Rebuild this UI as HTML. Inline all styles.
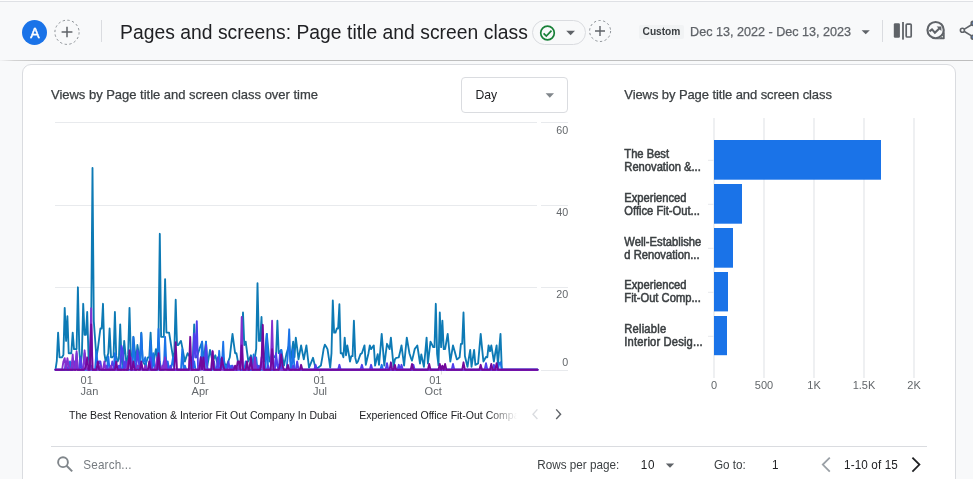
<!DOCTYPE html>
<html lang="en">
<head>
<meta charset="utf-8">
<title>Pages and screens: Page title and screen class</title>
<style>
*{box-sizing:border-box;margin:0;padding:0}
html,body{width:973px;height:479px;overflow:hidden;background:#f8f9fa}
body{position:relative;font-family:"Liberation Sans",sans-serif;color:#202124}
.abs{position:absolute;white-space:nowrap}
.t{position:absolute;white-space:nowrap;line-height:16px;height:16px}
#topline{left:0;top:0;width:973px;height:2px;background:linear-gradient(#fdfdfd 0,#fdfdfd 1px,#dfe1e5 1px,#dfe1e5 2px)}
#hdrline{left:0;top:60px;width:973px;height:1px;background:linear-gradient(90deg,#f3f4f5,#d4d4d4 14px,#bebebe 45px,#bebebe)}
#card{left:22px;top:64px;width:934px;height:440px;background:#fff;border:1px solid #dadce0;border-radius:9px}
#avatar{left:22px;top:20px;width:25px;height:25px;border-radius:50%;background:#1a73e8;color:#fff;font-size:14px;font-weight:400;-webkit-text-stroke:0.45px #fff;text-align:center;line-height:26.5px;padding-left:0.6px}
#vdiv1{left:101px;top:20px;width:1px;height:22px;background:#dadce0}
#vdiv2{left:882px;top:20px;width:1px;height:22px;background:#dadce0}
#title{left:120px;top:21px;font-size:19.3px;letter-spacing:0.035px;line-height:24px;height:24px;color:#202124}
#chip{left:532px;top:20px;width:54px;height:25px;border:1px solid #dadce0;border-radius:13px;background:#f8f9fa}
#custom{left:639px;top:25px;width:45px;height:14px;background:#f1f3f4;border-radius:2px}
#customt{left:642.6px;top:23.6px;font-size:10.2px;font-weight:700;letter-spacing:-0.03px;color:#3c4043}
#date{left:690.1px;top:24.4px;font-size:12.6px;color:#5f6368;-webkit-text-stroke:0.25px #5f6368}
.ct{font-size:13px;color:#3c4043;-webkit-text-stroke:0.25px #3c4043}
#ct1{left:51px;top:87.3px;letter-spacing:-0.02px}
#ct2{left:624.3px;top:87.3px;letter-spacing:-0.09px}
#daybox{left:461px;top:77px;width:107px;height:36px;border:1px solid #dadce0;border-radius:4px;background:#fff}
#day{left:475.4px;top:86.6px;font-size:12.2px;color:#202124}
.ax{font-size:11px;color:#63676b;line-height:12px;height:12px;position:absolute;white-space:nowrap}
.yl{right:404.8px;text-align:right;font-size:10.7px}
.leg{font-size:10.5px;color:#202124}
.bl{position:absolute;left:624.3px;font-size:11.2px;line-height:14px;height:14px;color:#3c4043;-webkit-text-stroke:0.5px #3c4043;white-space:nowrap;transform:scaleY(1.06);transform-origin:0 10.88px}
.ft{font-size:11.7px;color:#3c4043;transform:scaleY(1.09);transform-origin:0 12.1px}
#hr{left:51px;top:446px;width:876px;height:1px;background:#dadce0}
svg{position:absolute;left:0;top:0;overflow:visible}
</style>
</head>
<body>
<div class="abs" id="topline"></div>
<div class="abs" id="hdrline"></div>

<div class="abs" id="avatar">A</div>
<svg width="973" height="62" viewBox="0 0 973 62">
  <circle cx="67" cy="32.3" r="12.1" fill="none" stroke="#80868b" stroke-width="0.9" stroke-dasharray="2.3 2.45"/>
  <path d="M67 26.8v10.4M61.6 32h10.8" stroke="#5f6368" stroke-width="1.5" fill="none"/>
  <circle cx="600.1" cy="31" r="10.5" fill="none" stroke="#80868b" stroke-width="0.9" stroke-dasharray="2.3 2.45"/>
  <path d="M600 26v10M595 31h10" stroke="#5f6368" stroke-width="1.4" fill="none"/>
</svg>
<div class="abs" id="vdiv1"></div>
<div class="abs" id="title">Pages and screens: Page title and screen class</div>
<div class="abs" id="chip"></div>
<svg width="973" height="62" viewBox="0 0 973 62">
  <circle cx="547.5" cy="33" r="6.8" fill="none" stroke="#188038" stroke-width="1.7"/>
  <path d="M543.6 33.3l2.7 2.7 5.2-5.4" fill="none" stroke="#188038" stroke-width="1.7"/>
  <path d="M566.2 30.8h8.8l-4.4 4.5z" fill="#5f6368"/>
  <path d="M861.6 30.2h8.2l-4.1 4.1z" fill="#5f6368"/>
  <!-- compare icon -->
  <rect x="893.8" y="23.3" width="6.1" height="14.5" rx="1.3" fill="#5f6368"/>
  <rect x="902.1" y="22" width="1.8" height="17.6" fill="#5f6368"/>
  <rect x="906.2" y="24.1" width="5" height="12.9" rx="1" fill="none" stroke="#5f6368" stroke-width="1.7"/>
  <!-- insights icon -->
  <circle cx="935.6" cy="30.1" r="8.15" fill="none" stroke="#5f6368" stroke-width="2.1"/>
  <path d="M944.7 30.1V38.4a0.8 0.8 0 0 1 -0.8 0.8H935.6A9.1 9.1 0 0 0 944.7 30.1Z" fill="#5f6368"/>
  <circle cx="942.3" cy="36.8" r="0.75" fill="#e6ede2"/>
  <path d="M929.5 31.4l2.5-2 2.9 3.3 4.4-4.3" fill="none" stroke="#5f6368" stroke-width="2.1"/>
  <path d="M936.6 26.4h4.8v4.6z" fill="#5f6368"/>
  <!-- share icon -->
  <circle cx="962.4" cy="30.3" r="2" fill="none" stroke="#5f6368" stroke-width="1.6"/>
  <path d="M964.4 29.1l7.6-4.6M964.4 31.5l7.6 4.6" fill="none" stroke="#5f6368" stroke-width="1.6"/>
  <circle cx="973.2" cy="23.4" r="2" fill="#5f7fb8" stroke="#5f6368" stroke-width="1.6"/>
  <circle cx="973.2" cy="37.2" r="2" fill="#5f7fb8" stroke="#5f6368" stroke-width="1.6"/>
</svg>
<div class="abs" id="custom"></div>
<div class="t" id="customt">Custom</div>
<div class="t" id="date">Dec 13, 2022 - Dec 13, 2023</div>
<div class="abs" id="vdiv2"></div>

<div class="abs" id="card"></div>
<div class="t ct" id="ct1">Views by Page title and screen class over time</div>
<div class="t ct" id="ct2">Views by Page title and screen class</div>
<div class="abs" id="daybox"></div>
<div class="t" id="day">Day</div>

<svg width="973" height="479" viewBox="0 0 973 479">
  <path d="M545.6 93.2h8.4l-4.2 4.6z" fill="#80868b"/>
  <g stroke="#e8eaed" stroke-width="1" fill="none">
    <path d="M55 122.5H537M541 122.5H568M55 205.5H537M541 205.5H568M55 287.5H537M541 287.5H568M541 370.5H568"/>
  </g>
  <g fill="none" stroke-width="1.85" stroke-linejoin="round" stroke-linecap="round">
    <polyline stroke="#0d7ab5" points="55.5,369.7 56.8,360.8 58.1,332.6 59.5,357.3 60.8,357.3 62.1,357.3 63.4,354.9 64.7,307.9 66.1,340.9 67.4,316.2 68.7,353.2 70.0,353.2 71.3,353.2 72.7,332.6 74.0,349.1 75.3,349.1 76.6,349.1 77.9,287.3 79.3,349.9 80.6,367.6 81.9,353.9 83.2,303.8 84.6,334.7 85.9,334.7 87.2,312.0 88.5,355.9 89.8,365.6 91.2,321.3 92.5,167.9 93.8,321.3 95.1,339.3 96.4,357.3 97.8,349.1 99.1,338.8 100.4,328.5 101.7,328.5 103.0,303.8 104.4,353.9 105.7,361.5 107.0,357.3 108.3,353.2 109.6,328.5 111.0,357.3 112.3,357.3 113.6,355.9 114.9,312.0 116.2,355.9 117.6,361.5 118.9,358.8 120.2,324.4 121.5,358.8 122.8,367.6 124.2,340.9 125.5,354.3 126.8,367.6 128.1,354.9 129.5,307.9 130.8,354.9 132.1,365.6 133.4,336.8 134.7,349.1 136.1,361.5 137.4,345.0 138.7,353.2 140.0,361.5 141.3,332.6 142.7,360.8 144.0,363.2 145.3,365.6 146.6,361.5 147.9,357.3 149.3,357.3 150.6,332.6 151.9,360.8 153.2,365.6 154.5,357.3 155.9,349.1 157.2,357.3 158.5,337.1 159.8,233.8 161.1,336.8 162.5,336.8 163.8,336.8 165.1,279.1 166.4,332.6 167.7,332.6 169.1,332.6 170.4,340.9 171.7,349.1 173.0,357.3 174.3,352.9 175.7,299.7 177.0,345.0 178.3,345.0 179.6,342.9 181.0,340.9 182.3,347.7 183.6,354.6 184.9,361.5 186.2,357.3 187.6,353.2 188.9,355.3 190.2,357.3 191.5,361.5 192.8,358.8 194.2,324.4 195.5,357.3 196.8,357.3 198.1,353.2 199.4,349.1 200.8,345.4 202.1,341.7 203.4,361.5 204.7,351.6 206.0,341.7 207.4,365.6 208.7,357.8 210.0,349.9 211.3,355.7 212.6,361.5 214.0,358.4 215.3,355.3 216.6,360.4 217.9,365.6 219.2,362.5 220.6,359.4 221.9,358.4 223.2,357.3 224.5,362.5 225.9,367.6 227.2,364.2 228.5,360.8 229.8,357.3 231.1,345.6 232.5,333.9 233.8,343.6 235.1,353.2 236.4,353.2 237.7,360.4 239.1,367.6 240.4,361.8 241.7,356.0 243.0,312.5 244.3,345.0 245.7,341.7 247.0,351.6 248.3,361.5 249.6,358.4 250.9,355.3 252.3,360.4 253.6,365.6 254.9,357.3 256.2,348.9 257.5,283.2 258.9,340.9 260.2,340.9 261.5,317.0 262.8,357.0 264.1,361.5 265.5,347.7 266.8,333.9 268.1,347.7 269.4,361.5 270.7,357.3 272.1,353.2 273.4,355.3 274.7,357.3 276.0,357.3 277.4,320.7 278.7,353.2 280.0,351.6 281.3,349.9 282.6,357.8 284.0,365.6 285.3,359.4 286.6,353.2 287.9,349.1 289.2,345.0 290.6,361.5 291.9,351.6 293.2,341.7 294.5,357.3 295.8,337.6 297.2,348.5 298.5,359.4 299.8,352.4 301.1,345.4 302.4,352.4 303.8,359.4 305.1,352.4 306.4,345.4 307.7,356.5 309.0,367.6 310.4,364.3 311.7,361.1 313.0,357.8 314.3,363.1 315.6,368.5 317.0,368.1 318.3,367.6 319.6,366.6 320.9,365.6 322.3,357.3 323.6,349.1 324.9,344.6 326.2,346.8 327.5,349.1 328.9,358.4 330.2,367.6 331.5,353.1 332.8,300.5 334.1,332.6 335.5,332.6 336.8,328.5 338.1,328.5 339.4,304.2 340.7,353.2 342.1,353.2 343.4,357.3 344.7,337.6 346.0,355.3 347.3,345.4 348.7,353.4 350.0,361.5 351.3,356.1 352.6,356.1 353.9,320.7 355.3,357.9 356.6,363.1 357.9,361.5 359.2,357.8 360.5,354.1 361.9,353.2 363.2,349.3 364.5,345.4 365.8,364.8 367.1,359.0 368.5,353.2 369.8,345.4 371.1,349.1 372.4,347.3 373.8,345.4 375.1,365.6 376.4,359.8 377.7,354.1 379.0,364.8 380.4,349.3 381.7,333.9 383.0,349.7 384.3,365.6 385.6,354.7 387.0,343.8 388.3,346.4 389.6,349.1 390.9,337.6 392.2,352.2 393.6,366.8 394.9,359.4 396.2,357.8 397.5,357.6 398.8,357.3 400.2,351.4 401.5,345.4 402.8,355.5 404.1,365.6 405.4,351.6 406.8,337.6 408.1,345.4 409.4,353.2 410.7,357.3 412.0,360.6 413.4,354.9 414.7,349.1 416.0,347.3 417.3,345.4 418.7,354.5 420.0,363.5 421.3,354.5 422.6,360.6 423.9,366.8 425.3,352.2 426.6,337.6 427.9,363.5 429.2,352.6 430.5,341.7 431.9,344.4 433.2,347.1 434.5,347.1 435.8,303.8 437.1,353.9 438.5,365.6 439.8,312.5 441.1,347.1 442.4,320.7 443.7,349.1 445.1,349.1 446.4,341.5 447.7,333.9 449.0,347.7 450.3,361.5 451.7,353.4 453.0,345.4 454.3,350.1 455.6,354.7 456.9,359.4 458.3,358.4 459.6,357.3 460.9,343.8 462.2,343.8 463.5,312.5 464.9,356.0 466.2,361.5 467.5,366.8 468.8,358.4 470.2,349.9 471.5,366.8 472.8,358.4 474.1,349.9 475.4,364.8 476.8,364.1 478.1,363.5 479.4,348.7 480.7,333.9 482.0,347.7 483.4,361.5 484.7,359.2 486.0,356.9 487.3,357.3 488.6,345.4 490.0,351.2 491.3,345.4 492.6,353.4 493.9,361.5 495.2,353.4 496.6,345.4 497.9,364.8 499.2,349.3 500.5,333.9 501.8,369.7 503.2,369.7 504.5,369.7 505.8,369.7 507.1,369.7 508.4,369.7 509.8,369.7 511.1,369.7 512.4,369.7 513.7,369.7 515.1,369.7 516.4,369.7 517.7,369.7 519.0,369.7 520.3,369.7 521.7,369.7 523.0,369.7 524.3,369.7 525.6,369.7 526.9,369.7 528.3,369.7 529.6,369.7 530.9,369.7 532.2,369.7 533.5,369.7 534.9,369.7 536.2,369.7 537.5,369.7"/>
    <polyline stroke="#1a73e8" points="55.5,369.7 56.8,369.7 58.1,369.7 59.5,369.7 60.8,369.7 62.1,369.7 63.4,369.7 64.7,369.7 66.1,369.7 67.4,369.7 68.7,369.7 70.0,361.5 71.3,369.7 72.7,369.7 74.0,361.5 75.3,369.7 76.6,353.2 77.9,369.7 79.3,369.7 80.6,369.7 81.9,369.7 83.2,369.7 84.6,369.7 85.9,369.7 87.2,369.7 88.5,369.7 89.8,365.6 91.2,365.6 92.5,369.7 93.8,369.7 95.1,369.7 96.4,351.2 97.8,365.6 99.1,369.7 100.4,369.7 101.7,369.7 103.0,369.7 104.4,369.7 105.7,369.7 107.0,369.7 108.3,356.5 109.6,369.7 111.0,369.7 112.3,369.7 113.6,369.7 114.9,353.2 116.2,365.6 117.6,369.7 118.9,369.7 120.2,369.7 121.5,369.7 122.8,365.6 124.2,369.7 125.5,361.5 126.8,369.7 128.1,369.7 129.5,357.3 130.8,357.3 132.1,369.7 133.4,337.2 134.7,361.5 136.1,369.7 137.4,365.6 138.7,369.7 140.0,361.5 141.3,333.5 142.7,361.5 144.0,361.5 145.3,357.3 146.6,369.7 147.9,369.7 149.3,369.7 150.6,340.9 151.9,369.7 153.2,353.2 154.5,369.7 155.9,369.7 157.2,369.7 158.5,328.9 159.8,361.5 161.1,369.7 162.5,369.7 163.8,369.7 165.1,336.8 166.4,365.6 167.7,361.5 169.1,369.7 170.4,369.7 171.7,365.6 173.0,357.3 174.3,369.7 175.7,369.7 177.0,369.7 178.3,369.7 179.6,369.7 181.0,369.7 182.3,349.1 183.6,369.7 184.9,365.6 186.2,369.7 187.6,369.7 188.9,369.7 190.2,369.7 191.5,357.3 192.8,369.7 194.2,361.5 195.5,369.7 196.8,369.7 198.1,369.7 199.4,365.6 200.8,369.7 202.1,341.7 203.4,369.7 204.7,369.7 206.0,341.7 207.4,369.7 208.7,369.7 210.0,369.7 211.3,369.7 212.6,369.7 214.0,361.5 215.3,369.7 216.6,369.7 217.9,369.7 219.2,350.8 220.6,369.7 221.9,365.6 223.2,341.7 224.5,369.7 225.9,365.6 227.2,369.7 228.5,369.7 229.8,369.7 231.1,365.6 232.5,369.7 233.8,369.7 235.1,369.7 236.4,369.7 237.7,369.7 239.1,365.6 240.4,369.7 241.7,369.7 243.0,369.7 244.3,369.7 245.7,361.5 247.0,369.7 248.3,369.7 249.6,369.7 250.9,369.7 252.3,369.7 253.6,354.5 254.9,369.7 256.2,357.3 257.5,369.7 258.9,365.6 260.2,369.7 261.5,369.7 262.8,369.7 264.1,369.7 265.5,369.7 266.8,333.9 268.1,369.7 269.4,369.7 270.7,369.7 272.1,369.7 273.4,369.7 274.7,369.7 276.0,357.3 277.4,365.6 278.7,369.7 280.0,369.7 281.3,349.9 282.6,369.7 284.0,369.7 285.3,369.7 286.6,369.7 287.9,353.2 289.2,329.3 290.6,369.7 291.9,365.6 293.2,349.1 294.5,369.7 295.8,369.7 297.2,369.7 298.5,369.7 299.8,369.7 301.1,369.7 302.4,369.7 303.8,369.7 305.1,369.7 306.4,369.7 307.7,369.7 309.0,369.7 310.4,369.7 311.7,369.7 313.0,369.7 314.3,369.7 315.6,369.7 317.0,369.7 318.3,369.7 319.6,369.7 320.9,369.7 322.3,369.7 323.6,369.7 324.9,369.7 326.2,369.7 327.5,369.7 328.9,369.7 330.2,369.7 331.5,369.7 332.8,369.7 334.1,369.7 335.5,369.7 336.8,369.7 338.1,369.7 339.4,369.7 340.7,369.7 342.1,369.7 343.4,369.7 344.7,369.7 346.0,369.7 347.3,369.7 348.7,369.7 350.0,369.7 351.3,369.7 352.6,369.7 353.9,369.7 355.3,369.7 356.6,369.7 357.9,369.7 359.2,369.7 360.5,369.7 361.9,369.7 363.2,369.7 364.5,369.7 365.8,369.7 367.1,369.7 368.5,369.7 369.8,369.7 371.1,369.7 372.4,369.7 373.8,369.7 375.1,369.7 376.4,369.7 377.7,369.7 379.0,369.7 380.4,369.7 381.7,364.8 383.0,369.7 384.3,369.7 385.6,369.7 387.0,369.7 388.3,369.7 389.6,369.7 390.9,369.7 392.2,369.7 393.6,369.7 394.9,369.7 396.2,369.7 397.5,369.7 398.8,369.7 400.2,369.7 401.5,369.7 402.8,369.7 404.1,369.7 405.4,369.7 406.8,369.7 408.1,369.7 409.4,369.7 410.7,369.7 412.0,369.7 413.4,369.7 414.7,369.7 416.0,369.7 417.3,369.7 418.7,369.7 420.0,369.7 421.3,369.7 422.6,369.7 423.9,369.7 425.3,369.7 426.6,369.7 427.9,369.7 429.2,369.7 430.5,369.7 431.9,369.7 433.2,369.7 434.5,369.7 435.8,369.7 437.1,369.7 438.5,369.7 439.8,369.7 441.1,369.7 442.4,369.7 443.7,369.7 445.1,369.7 446.4,369.7 447.7,369.7 449.0,369.7 450.3,369.7 451.7,369.7 453.0,369.7 454.3,369.7 455.6,369.7 456.9,369.7 458.3,369.7 459.6,369.7 460.9,369.7 462.2,369.7 463.5,369.7 464.9,369.7 466.2,369.7 467.5,369.7 468.8,369.7 470.2,369.7 471.5,369.7 472.8,369.7 474.1,369.7 475.4,369.7 476.8,369.7 478.1,369.7 479.4,369.7 480.7,369.7 482.0,369.7 483.4,369.7 484.7,369.7 486.0,369.7 487.3,369.7 488.6,369.7 490.0,369.7 491.3,369.7 492.6,369.7 493.9,369.7 495.2,369.7 496.6,369.7 497.9,369.7 499.2,363.5 500.5,362.3 501.8,369.7 503.2,369.7 504.5,369.7 505.8,369.7 507.1,369.7 508.4,369.7 509.8,369.7 511.1,369.7 512.4,369.7 513.7,369.7 515.1,369.7 516.4,369.7 517.7,369.7 519.0,369.7 520.3,369.7 521.7,369.7 523.0,369.7 524.3,369.7 525.6,369.7 526.9,369.7 528.3,369.7 529.6,369.7 530.9,369.7 532.2,369.7 533.5,369.7 534.9,369.7 536.2,369.7 537.5,369.7"/>
    <polyline stroke="#4f3fec" points="55.5,369.7 56.8,369.7 58.1,369.7 59.5,369.7 60.8,369.7 62.1,369.7 63.4,369.7 64.7,369.7 66.1,361.5 67.4,369.7 68.7,369.7 70.0,369.7 71.3,369.7 72.7,369.7 74.0,361.5 75.3,369.7 76.6,365.6 77.9,369.7 79.3,369.7 80.6,357.3 81.9,369.7 83.2,369.7 84.6,353.2 85.9,365.6 87.2,369.7 88.5,369.7 89.8,369.7 91.2,369.7 92.5,369.7 93.8,369.7 95.1,369.7 96.4,369.7 97.8,369.7 99.1,361.5 100.4,361.5 101.7,369.7 103.0,369.7 104.4,369.7 105.7,369.7 107.0,365.6 108.3,369.7 109.6,369.7 111.0,369.7 112.3,361.5 113.6,365.6 114.9,369.7 116.2,369.7 117.6,369.7 118.9,365.6 120.2,369.7 121.5,345.8 122.8,351.2 124.2,369.7 125.5,361.5 126.8,369.7 128.1,369.7 129.5,369.7 130.8,369.7 132.1,369.7 133.4,369.7 134.7,369.7 136.1,369.7 137.4,350.3 138.7,361.5 140.0,369.7 141.3,365.6 142.7,369.7 144.0,369.7 145.3,369.7 146.6,369.7 147.9,369.7 149.3,369.7 150.6,357.3 151.9,369.7 153.2,369.7 154.5,369.7 155.9,369.7 157.2,361.5 158.5,369.7 159.8,369.7 161.1,369.7 162.5,369.7 163.8,361.5 165.1,369.7 166.4,361.5 167.7,369.7 169.1,369.7 170.4,365.6 171.7,369.7 173.0,369.7 174.3,369.7 175.7,369.7 177.0,369.7 178.3,369.7 179.6,369.7 181.0,369.7 182.3,369.7 183.6,369.7 184.9,369.7 186.2,369.7 187.6,369.7 188.9,369.7 190.2,369.7 191.5,369.7 192.8,369.7 194.2,333.5 195.5,357.3 196.8,321.1 198.1,369.7 199.4,369.7 200.8,357.3 202.1,361.5 203.4,369.7 204.7,361.5 206.0,345.4 207.4,369.7 208.7,369.7 210.0,369.7 211.3,369.7 212.6,365.6 214.0,369.7 215.3,369.7 216.6,369.7 217.9,357.3 219.2,369.7 220.6,369.7 221.9,357.3 223.2,369.7 224.5,369.7 225.9,369.7 227.2,369.7 228.5,361.5 229.8,369.7 231.1,369.7 232.5,365.6 233.8,369.7 235.1,369.7 236.4,369.7 237.7,369.7 239.1,369.7 240.4,369.7 241.7,369.7 243.0,369.7 244.3,369.7 245.7,369.7 247.0,369.7 248.3,369.7 249.6,369.7 250.9,369.7 252.3,369.7 253.6,369.7 254.9,369.7 256.2,369.7 257.5,365.6 258.9,369.7 260.2,369.7 261.5,365.6 262.8,361.5 264.1,369.7 265.5,369.7 266.8,369.7 268.1,365.6 269.4,369.7 270.7,369.7 272.1,369.7 273.4,369.7 274.7,369.7 276.0,353.2 277.4,365.6 278.7,369.7 280.0,353.2 281.3,369.7 282.6,369.7 284.0,369.7 285.3,369.7 286.6,369.7 287.9,369.7 289.2,369.7 290.6,369.7 291.9,369.7 293.2,365.6 294.5,369.7 295.8,369.7 297.2,361.5 298.5,369.7 299.8,369.7 301.1,369.7 302.4,369.7 303.8,369.7 305.1,369.7 306.4,369.7 307.7,369.7 309.0,369.7 310.4,369.7 311.7,369.7 313.0,369.7 314.3,369.7 315.6,364.8 317.0,369.7 318.3,369.7 319.6,369.7 320.9,369.7 322.3,369.7 323.6,369.7 324.9,369.7 326.2,369.7 327.5,369.7 328.9,369.7 330.2,369.7 331.5,369.7 332.8,369.7 334.1,369.7 335.5,369.7 336.8,369.7 338.1,369.7 339.4,364.8 340.7,369.7 342.1,369.7 343.4,369.7 344.7,369.7 346.0,369.7 347.3,369.7 348.7,369.7 350.0,369.7 351.3,369.7 352.6,369.7 353.9,369.7 355.3,369.7 356.6,369.7 357.9,369.7 359.2,369.7 360.5,369.7 361.9,364.8 363.2,369.7 364.5,369.7 365.8,369.7 367.1,369.7 368.5,369.7 369.8,369.7 371.1,364.8 372.4,369.7 373.8,369.7 375.1,369.7 376.4,369.7 377.7,369.7 379.0,369.7 380.4,369.7 381.7,369.7 383.0,369.7 384.3,369.7 385.6,369.7 387.0,363.1 388.3,369.7 389.6,369.7 390.9,369.7 392.2,369.7 393.6,369.7 394.9,369.7 396.2,369.7 397.5,369.7 398.8,364.8 400.2,369.7 401.5,364.8 402.8,369.7 404.1,369.7 405.4,369.7 406.8,369.7 408.1,369.7 409.4,369.7 410.7,369.7 412.0,369.7 413.4,364.8 414.7,369.7 416.0,369.7 417.3,369.7 418.7,369.7 420.0,369.7 421.3,369.7 422.6,369.7 423.9,369.7 425.3,369.7 426.6,369.7 427.9,369.7 429.2,369.7 430.5,369.7 431.9,369.7 433.2,369.7 434.5,369.7 435.8,369.7 437.1,369.7 438.5,369.7 439.8,369.7 441.1,369.7 442.4,369.7 443.7,369.7 445.1,369.7 446.4,369.7 447.7,369.7 449.0,369.7 450.3,369.7 451.7,369.7 453.0,363.9 454.3,369.7 455.6,369.7 456.9,369.7 458.3,369.7 459.6,369.7 460.9,369.7 462.2,369.7 463.5,369.7 464.9,369.7 466.2,369.7 467.5,369.7 468.8,369.7 470.2,369.7 471.5,369.7 472.8,369.7 474.1,369.7 475.4,369.7 476.8,369.7 478.1,369.7 479.4,369.7 480.7,369.7 482.0,369.7 483.4,369.7 484.7,369.7 486.0,363.1 487.3,369.7 488.6,369.7 490.0,369.7 491.3,369.7 492.6,369.7 493.9,364.8 495.2,369.7 496.6,369.7 497.9,369.7 499.2,369.7 500.5,369.7 501.8,369.7 503.2,369.7 504.5,369.7 505.8,369.7 507.1,369.7 508.4,369.7 509.8,369.7 511.1,369.7 512.4,369.7 513.7,369.7 515.1,369.7 516.4,369.7 517.7,369.7 519.0,369.7 520.3,369.7 521.7,369.7 523.0,369.7 524.3,369.7 525.6,369.7 526.9,369.7 528.3,369.7 529.6,369.7 530.9,369.7 532.2,369.7 533.5,369.7 534.9,369.7 536.2,369.7 537.5,369.7"/>
    <polyline stroke="#8430ce" points="55.5,369.7 56.8,369.7 58.1,369.7 59.5,369.7 60.8,369.7 62.1,369.7 63.4,361.5 64.7,358.2 66.1,369.7 67.4,358.2 68.7,365.6 70.0,369.7 71.3,369.7 72.7,354.5 74.0,369.7 75.3,369.7 76.6,351.2 77.9,369.7 79.3,369.7 80.6,369.7 81.9,369.7 83.2,369.7 84.6,350.3 85.9,365.6 87.2,369.7 88.5,369.7 89.8,369.7 91.2,308.3 92.5,369.7 93.8,369.7 95.1,369.7 96.4,369.7 97.8,369.7 99.1,369.7 100.4,365.6 101.7,369.7 103.0,369.7 104.4,361.5 105.7,369.7 107.0,369.7 108.3,369.7 109.6,369.7 111.0,365.6 112.3,369.7 113.6,369.7 114.9,369.7 116.2,369.7 117.6,369.7 118.9,369.7 120.2,369.7 121.5,369.7 122.8,369.7 124.2,369.7 125.5,369.7 126.8,369.7 128.1,361.5 129.5,357.3 130.8,357.3 132.1,369.7 133.4,369.7 134.7,369.7 136.1,369.7 137.4,365.6 138.7,365.6 140.0,369.7 141.3,369.7 142.7,369.7 144.0,369.7 145.3,365.6 146.6,369.7 147.9,369.7 149.3,369.7 150.6,369.7 151.9,369.7 153.2,369.7 154.5,369.7 155.9,365.6 157.2,357.3 158.5,357.3 159.8,369.7 161.1,369.7 162.5,365.6 163.8,369.7 165.1,357.3 166.4,369.7 167.7,369.7 169.1,369.7 170.4,369.7 171.7,369.7 173.0,369.7 174.3,369.7 175.7,369.7 177.0,369.7 178.3,369.7 179.6,369.7 181.0,369.7 182.3,369.7 183.6,369.7 184.9,369.7 186.2,369.7 187.6,369.7 188.9,369.7 190.2,369.7 191.5,369.7 192.8,369.7 194.2,369.7 195.5,369.7 196.8,369.7 198.1,369.7 199.4,365.6 200.8,369.7 202.1,361.5 203.4,369.7 204.7,369.7 206.0,369.7 207.4,369.7 208.7,369.7 210.0,369.7 211.3,369.7 212.6,350.8 214.0,369.7 215.3,369.7 216.6,369.7 217.9,369.7 219.2,369.7 220.6,369.7 221.9,369.7 223.2,369.7 224.5,369.7 225.9,369.7 227.2,369.7 228.5,369.7 229.8,369.7 231.1,369.7 232.5,369.7 233.8,369.7 235.1,369.7 236.4,369.7 237.7,369.7 239.1,365.6 240.4,369.7 241.7,317.0 243.0,369.7 244.3,369.7 245.7,369.7 247.0,369.7 248.3,369.7 249.6,365.6 250.9,361.5 252.3,369.7 253.6,369.7 254.9,357.3 256.2,369.7 257.5,369.7 258.9,369.7 260.2,369.7 261.5,357.3 262.8,369.7 264.1,369.7 265.5,369.7 266.8,369.7 268.1,369.7 269.4,369.7 270.7,369.7 272.1,320.7 273.4,369.7 274.7,369.7 276.0,369.7 277.4,369.7 278.7,369.7 280.0,369.7 281.3,369.7 282.6,369.7 284.0,369.7 285.3,369.7 286.6,369.7 287.9,369.7 289.2,369.7 290.6,369.7 291.9,369.7 293.2,369.7 294.5,369.7 295.8,369.7 297.2,369.7 298.5,369.7 299.8,369.7 301.1,369.7 302.4,369.7 303.8,369.7 305.1,369.7 306.4,369.7 307.7,369.7 309.0,369.7 310.4,369.7 311.7,369.7 313.0,369.7 314.3,369.7 315.6,369.7 317.0,369.7 318.3,369.7 319.6,369.7 320.9,369.7 322.3,369.7 323.6,369.7 324.9,369.7 326.2,369.7 327.5,369.7 328.9,369.7 330.2,369.7 331.5,369.7 332.8,369.7 334.1,369.7 335.5,369.7 336.8,369.7 338.1,369.7 339.4,369.7 340.7,369.7 342.1,369.7 343.4,369.7 344.7,369.7 346.0,369.7 347.3,369.7 348.7,369.7 350.0,369.7 351.3,369.7 352.6,369.7 353.9,369.7 355.3,369.7 356.6,369.7 357.9,369.7 359.2,369.7 360.5,369.7 361.9,369.7 363.2,369.7 364.5,369.7 365.8,369.7 367.1,369.7 368.5,369.7 369.8,369.7 371.1,369.7 372.4,369.7 373.8,369.7 375.1,369.7 376.4,369.7 377.7,369.7 379.0,369.7 380.4,369.7 381.7,369.7 383.0,369.7 384.3,369.7 385.6,369.7 387.0,369.7 388.3,369.7 389.6,369.7 390.9,369.7 392.2,369.7 393.6,369.7 394.9,369.7 396.2,369.7 397.5,369.7 398.8,369.7 400.2,369.7 401.5,369.7 402.8,369.7 404.1,369.7 405.4,369.7 406.8,369.7 408.1,369.7 409.4,369.7 410.7,369.7 412.0,369.7 413.4,369.7 414.7,369.7 416.0,369.7 417.3,369.7 418.7,369.7 420.0,369.7 421.3,369.7 422.6,369.7 423.9,369.7 425.3,369.7 426.6,369.7 427.9,369.7 429.2,369.7 430.5,369.7 431.9,369.7 433.2,369.7 434.5,369.7 435.8,369.7 437.1,369.7 438.5,369.7 439.8,369.7 441.1,369.7 442.4,369.7 443.7,369.7 445.1,369.7 446.4,369.7 447.7,369.7 449.0,369.7 450.3,369.7 451.7,369.7 453.0,369.7 454.3,369.7 455.6,369.7 456.9,369.7 458.3,369.7 459.6,369.7 460.9,369.7 462.2,369.7 463.5,369.7 464.9,369.7 466.2,369.7 467.5,369.7 468.8,369.7 470.2,369.7 471.5,369.7 472.8,369.7 474.1,369.7 475.4,369.7 476.8,369.7 478.1,369.7 479.4,369.7 480.7,369.7 482.0,369.7 483.4,369.7 484.7,369.7 486.0,369.7 487.3,369.7 488.6,369.7 490.0,369.7 491.3,369.7 492.6,369.7 493.9,369.7 495.2,369.7 496.6,369.7 497.9,369.7 499.2,369.7 500.5,369.7 501.8,369.7 503.2,369.7 504.5,369.7 505.8,369.7 507.1,369.7 508.4,369.7 509.8,369.7 511.1,369.7 512.4,369.7 513.7,369.7 515.1,369.7 516.4,369.7 517.7,369.7 519.0,369.7 520.3,369.7 521.7,369.7 523.0,369.7 524.3,369.7 525.6,369.7 526.9,369.7 528.3,369.7 529.6,369.7 530.9,369.7 532.2,369.7 533.5,369.7 534.9,369.7 536.2,369.7 537.5,369.7"/>
    <polyline stroke="#72089b" points="55.5,369.7 56.8,369.7 58.1,369.7 59.5,369.7 60.8,369.7 62.1,369.7 63.4,369.7 64.7,369.7 66.1,369.7 67.4,369.7 68.7,369.7 70.0,369.7 71.3,369.7 72.7,369.7 74.0,369.7 75.3,369.7 76.6,369.7 77.9,369.7 79.3,369.7 80.6,369.7 81.9,369.7 83.2,369.7 84.6,369.7 85.9,365.6 87.2,357.3 88.5,369.7 89.8,369.7 91.2,324.4 92.5,369.7 93.8,369.7 95.1,369.7 96.4,369.7 97.8,361.5 99.1,369.7 100.4,369.7 101.7,369.7 103.0,369.7 104.4,369.7 105.7,369.7 107.0,369.7 108.3,369.7 109.6,369.7 111.0,369.7 112.3,369.7 113.6,369.7 114.9,369.7 116.2,361.5 117.6,369.7 118.9,369.7 120.2,369.7 121.5,369.7 122.8,369.7 124.2,369.7 125.5,369.7 126.8,369.7 128.1,369.7 129.5,350.3 130.8,369.7 132.1,369.7 133.4,361.5 134.7,369.7 136.1,369.7 137.4,369.7 138.7,369.7 140.0,369.7 141.3,361.5 142.7,369.7 144.0,369.7 145.3,369.7 146.6,369.7 147.9,369.7 149.3,361.5 150.6,369.7 151.9,369.7 153.2,369.7 154.5,369.7 155.9,369.7 157.2,369.7 158.5,353.2 159.8,369.7 161.1,369.7 162.5,369.7 163.8,369.7 165.1,369.7 166.4,369.7 167.7,369.7 169.1,369.7 170.4,369.7 171.7,369.7 173.0,369.7 174.3,369.7 175.7,342.1 177.0,369.7 178.3,369.7 179.6,369.7 181.0,369.7 182.3,369.7 183.6,369.7 184.9,369.7 186.2,369.7 187.6,369.7 188.9,369.7 190.2,336.8 191.5,369.7 192.8,369.7 194.2,369.7 195.5,369.7 196.8,369.7 198.1,369.7 199.4,369.7 200.8,357.3 202.1,369.7 203.4,357.3 204.7,369.7 206.0,369.7 207.4,369.7 208.7,369.7 210.0,369.7 211.3,369.7 212.6,351.6 214.0,369.7 215.3,369.7 216.6,369.7 217.9,369.7 219.2,369.7 220.6,369.7 221.9,357.8 223.2,365.6 224.5,369.7 225.9,369.7 227.2,369.7 228.5,369.7 229.8,369.7 231.1,369.7 232.5,369.7 233.8,369.7 235.1,365.6 236.4,369.7 237.7,361.5 239.1,361.5 240.4,369.7 241.7,345.4 243.0,369.7 244.3,369.7 245.7,369.7 247.0,361.5 248.3,369.7 249.6,369.7 250.9,357.3 252.3,369.7 253.6,369.7 254.9,369.7 256.2,369.7 257.5,369.7 258.9,369.7 260.2,369.7 261.5,361.5 262.8,324.8 264.1,369.7 265.5,369.7 266.8,369.7 268.1,369.7 269.4,369.7 270.7,369.7 272.1,349.1 273.4,369.7 274.7,369.7 276.0,369.7 277.4,369.7 278.7,369.7 280.0,365.6 281.3,354.5 282.6,365.6 284.0,369.7 285.3,369.7 286.6,369.7 287.9,364.8 289.2,369.7 290.6,369.7 291.9,369.7 293.2,369.7 294.5,369.7 295.8,369.7 297.2,369.7 298.5,369.7 299.8,369.7 301.1,364.8 302.4,369.7 303.8,369.7 305.1,369.7 306.4,369.7 307.7,369.7 309.0,369.7 310.4,369.7 311.7,369.7 313.0,369.7 314.3,369.7 315.6,369.7 317.0,369.7 318.3,369.7 319.6,369.7 320.9,369.7 322.3,369.7 323.6,369.7 324.9,369.7 326.2,369.7 327.5,369.7 328.9,369.7 330.2,369.7 331.5,369.7 332.8,369.7 334.1,369.7 335.5,369.7 336.8,369.7 338.1,369.7 339.4,369.7 340.7,369.7 342.1,369.7 343.4,369.7 344.7,369.7 346.0,369.7 347.3,369.7 348.7,369.7 350.0,369.7 351.3,369.7 352.6,369.7 353.9,369.7 355.3,369.7 356.6,369.7 357.9,369.7 359.2,369.7 360.5,369.7 361.9,369.7 363.2,369.7 364.5,369.7 365.8,369.7 367.1,369.7 368.5,369.7 369.8,369.7 371.1,369.7 372.4,369.7 373.8,369.7 375.1,369.7 376.4,369.7 377.7,369.7 379.0,369.7 380.4,369.7 381.7,369.7 383.0,369.7 384.3,369.7 385.6,369.7 387.0,369.7 388.3,369.7 389.6,369.7 390.9,362.3 392.2,369.7 393.6,369.7 394.9,364.8 396.2,369.7 397.5,369.7 398.8,369.7 400.2,369.7 401.5,369.7 402.8,369.7 404.1,369.7 405.4,369.7 406.8,369.7 408.1,369.7 409.4,369.7 410.7,369.7 412.0,363.9 413.4,369.7 414.7,369.7 416.0,369.7 417.3,369.7 418.7,369.7 420.0,369.7 421.3,369.7 422.6,369.7 423.9,369.7 425.3,369.7 426.6,369.7 427.9,369.7 429.2,363.9 430.5,369.7 431.9,369.7 433.2,369.7 434.5,369.7 435.8,369.7 437.1,369.7 438.5,369.7 439.8,363.9 441.1,369.7 442.4,365.6 443.7,369.7 445.1,363.9 446.4,369.7 447.7,369.7 449.0,369.7 450.3,369.7 451.7,369.7 453.0,369.7 454.3,369.7 455.6,369.7 456.9,369.7 458.3,369.7 459.6,369.7 460.9,369.7 462.2,369.7 463.5,362.3 464.9,369.7 466.2,369.7 467.5,369.7 468.8,369.7 470.2,369.7 471.5,369.7 472.8,369.7 474.1,369.7 475.4,369.7 476.8,369.7 478.1,369.7 479.4,369.7 480.7,364.8 482.0,369.7 483.4,369.7 484.7,369.7 486.0,369.7 487.3,369.7 488.6,369.7 490.0,369.7 491.3,363.9 492.6,369.7 493.9,369.7 495.2,369.7 496.6,363.1 497.9,369.7 499.2,369.7 500.5,369.7 501.8,369.7 503.2,369.7 504.5,369.7 505.8,369.7 507.1,369.7 508.4,369.7 509.8,369.7 511.1,369.7 512.4,369.7 513.7,369.7 515.1,369.7 516.4,369.7 517.7,369.7 519.0,369.7 520.3,369.7 521.7,369.7 523.0,369.7 524.3,369.7 525.6,369.7 526.9,369.7 528.3,369.7 529.6,369.7 530.9,369.7 532.2,369.7 533.5,369.7 534.9,369.7 536.2,369.7 537.5,369.7"/>
  </g>
  <path d="M319.5 371V374.5M441.5 371V374.5" stroke="#e0e0e0" stroke-width="1" fill="none"/>
  <!-- bar chart -->
  <g stroke="#e6e8eb" stroke-width="1.3" fill="none">
    <path d="M714 118V378M764 118V378M814 118V378M864 118V378M914 118V378"/>
    <path d="M708 160.3H714M708 204.3H714M708 248.3H714M708 292.3H714M708 336.3H714" stroke-width="1"/>
  </g>
  <g fill="#1a73e8">
    <rect x="714" y="140" width="167" height="39.7"/>
    <rect x="714" y="184" width="28" height="39.7"/>
    <rect x="714" y="228" width="19" height="39.7"/>
    <rect x="714" y="272" width="14" height="39.4"/>
    <rect x="714" y="316" width="13" height="39.2"/>
  </g>
  <!-- legend arrows -->
  <path d="M537.4 409.4l-4.4 4.8 4.4 4.8" fill="none" stroke="#dadce0" stroke-width="1.4"/>
  <path d="M556.2 409.4l4.4 4.8-4.4 4.8" fill="none" stroke="#5f6368" stroke-width="1.4"/>
  <!-- search icon -->
  <circle cx="63" cy="462.2" r="4.9" fill="none" stroke="#80868b" stroke-width="1.9"/>
  <path d="M66.6 465.8l5.6 5.6" fill="none" stroke="#80868b" stroke-width="2"/>
  <!-- rows dropdown -->
  <path d="M665.8 463.4h8.4l-4.2 4.4z" fill="#5f6368"/>
  <!-- pager -->
  <path d="M829.8 457.6l-7 7 7 7" fill="none" stroke="#9aa0a6" stroke-width="1.8"/>
  <path d="M912.4 457.6l7 7-7 7" fill="none" stroke="#202124" stroke-width="1.8"/>
</svg>

<div class="ax yl" style="top:124.2px">60</div>
<div class="ax yl" style="top:205.6px">40</div>
<div class="ax yl" style="top:288px">20</div>
<div class="ax yl" style="top:356.4px">0</div>

<div class="ax" style="left:80.6px;top:374px">01</div>
<div class="ax" style="left:80.6px;top:385.2px">Jan</div>
<div class="ax" style="left:193.4px;top:374px">01</div>
<div class="ax" style="left:191.6px;top:385.2px">Apr</div>
<div class="ax" style="left:313.4px;top:374px">01</div>
<div class="ax" style="left:313px;top:385.2px">Jul</div>
<div class="ax" style="left:429.2px;top:374px">01</div>
<div class="ax" style="left:424.6px;top:385.2px">Oct</div>

<div class="t leg" style="left:69px;top:407.2px">The Best Renovation &amp; Interior Fit Out Company In Dubai</div>
<div class="t leg" style="left:359.2px;top:407.2px;width:160px;overflow:hidden;-webkit-mask-image:linear-gradient(90deg,#000 0,#000 128px,transparent 158px);mask-image:linear-gradient(90deg,#000 0,#000 128px,transparent 158px)">Experienced Office Fit-Out Company In Dubai</div>

<div class="bl" style="top:147.12px">The Best</div>
<div class="bl" style="top:160.12px">Renovation &amp;...</div>
<div class="bl" style="top:190.82px">Experienced</div>
<div class="bl" style="top:203.82px">Office Fit-Out...</div>
<div class="bl" style="top:234.52px">Well-Establishe</div>
<div class="bl" style="top:247.52px">d Renovation...</div>
<div class="bl" style="top:278.22px">Experienced</div>
<div class="bl" style="top:291.22px">Fit-Out Comp...</div>
<div class="bl" style="top:321.92px;letter-spacing:0.2px">Reliable</div>
<div class="bl" style="top:334.92px;letter-spacing:0.15px">Interior Desig...</div>

<div class="ax" style="left:714px;top:379px;width:0;text-align:center"><span style="position:absolute;left:0;transform:translateX(-50%)">0</span></div>
<div class="ax" style="left:764px;top:379px"><span style="position:absolute;left:0;transform:translateX(-50%)">500</span></div>
<div class="ax" style="left:814px;top:379px"><span style="position:absolute;left:0;transform:translateX(-50%)">1K</span></div>
<div class="ax" style="left:864px;top:379px"><span style="position:absolute;left:0;transform:translateX(-50%)">1.5K</span></div>
<div class="ax" style="left:914px;top:379px"><span style="position:absolute;left:0;transform:translateX(-50%)">2K</span></div>

<div class="abs" id="hr"></div>
<div class="t ft" style="left:83.3px;top:456.8px;color:#757a7f;letter-spacing:0.17px">Search...</div>
<div class="t ft" style="left:537.3px;top:456.8px">Rows per page:</div>
<div class="t ft" style="left:640.8px;top:456.8px;color:#202124;letter-spacing:0.7px">10</div>
<div class="t ft" style="left:714px;top:456.8px">Go to:</div>
<div class="t ft" style="left:772px;top:456.8px;color:#202124">1</div>
<div class="t ft" style="left:844.1px;top:456.8px;color:#202124;letter-spacing:0.12px">1-10 of 15</div>
</body>
</html>
